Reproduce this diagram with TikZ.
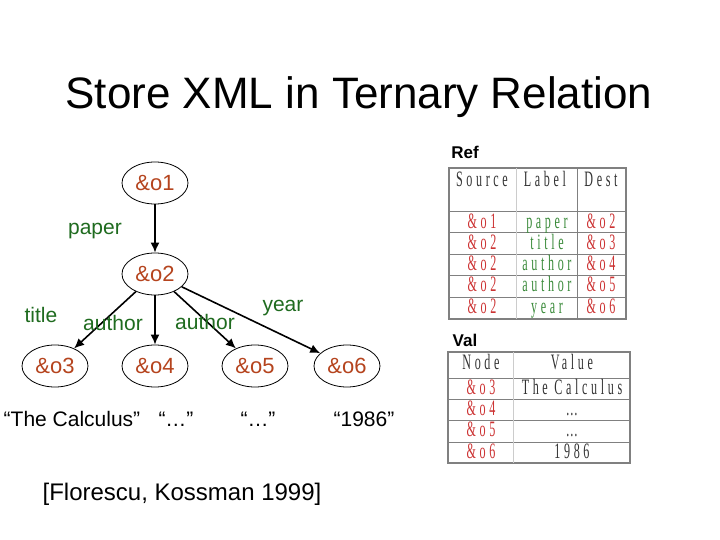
\documentclass[tikz,border=0pt]{standalone}
\usepackage{fontspec}
\usepackage{graphicx}
\setmainfont{Liberation Sans}
\newfontfamily\tabfont[LetterSpace=30]{Liberation Serif}
\usetikzlibrary{shapes.geometric,arrows.meta}
\definecolor{oidred}{HTML}{B5441E}
\definecolor{lblgreen}{HTML}{1F6B1F}
\definecolor{cellred}{HTML}{CC3333}
\definecolor{cellgreen}{HTML}{3A8A3A}
\definecolor{rulegray}{HTML}{808080}
\newcommand{\cell}[1]{\scalebox{0.55}[1]{\fontsize{11}{13}\tabfont #1}}
\tikzset{
  oid/.style={ellipse, draw, thin, minimum width=33pt, minimum height=21pt,
    inner sep=0pt, text=oidred, font=\fontsize{11}{13}\selectfont},
  lbl/.style={text=lblgreen, font=\fontsize{10.5}{12}\selectfont},
  val/.style={font=\fontsize{10.5}{12}\selectfont},
  link/.style={-{Latex[length=5pt,width=4.5pt]}, line width=0.8pt},
  tcell/.style={inner sep=0pt, text height=7.5pt, text depth=2pt},
  tname/.style={font=\bfseries\fontsize{8.5}{10}\selectfont},
}
\begin{document}
\begin{tikzpicture}[x=0.5pt, y=-0.5pt]
  \useasboundingbox (0,0) rectangle (720,540);
  \node (title) at (359,97) {\fontsize{22}{26}\selectfont Store XML in Ternary Relation};
  % tree
  \node[oid] (o1) at (155,183) {\&o1};
  \node[oid] (o2) at (155,274) {\&o2};
  \node[oid] (o3) at (55,366)  {\&o3};
  \node[oid] (o4) at (155,366) {\&o4};
  \node[oid] (o5) at (255,366) {\&o5};
  \node[oid] (o6) at (347,366) {\&o6};
  \draw[link] (o1) -- (o2);
  \draw[link] (o2) -- (o3);
  \draw[link] (o2) -- (o4);
  \draw[link] (o2) -- (o5);
  \draw[link] (o2) -- (o6);
  \node[lbl] (paper)   at (95,231)  {paper};
  \node[lbl] (title3)  at (41,315)  {title};
  \node[lbl] (author4) at (113,323) {author};
  \node[lbl] (author5) at (205,322) {author};
  \node[lbl] (year6)   at (283,308) {year};
  \node[val] (v3) at (72,419)  {``The Calculus''};
  \node[val] (v4) at (176,419) {``\ldots''};
  \node[val] (v5) at (258,419) {``\ldots''};
  \node[val] (v6) at (364,419) {``1986''};
  \node (cite) at (182,494) {\fontsize{12}{14}\selectfont [Florescu, Kossman 1999]};
  % Ref table
  \node[tname] (ref) at (465,152) {Ref};
  \begin{scope}[draw=rulegray]
    \draw[line width=1pt] (449,168) rectangle (626,319);
    \draw (449,211) -- (626,211);
    \foreach \y in {232,254,275,297} \draw (449,\y) -- (626,\y);
    \draw[draw=gray!40] (516,168) -- (516,319);
    \draw (577,168) -- (577,319);
  \end{scope}
  \node[tcell, text=black!80] at (482,181) {\cell{Source}};
  \node[tcell, text=black!80] at (545,181) {\cell{Label}};
  \node[tcell, text=black!80] at (601,181) {\cell{Dest}};
  \foreach \s/\l/\d [count=\i] in {o1/paper/o2, o2/title/o3, o2/author/o4,
      o2/author/o5, o2/year/o6} {
    \node[tcell, text=cellred]   at (482,{201.5+21.25*\i}) {\cell{\&\s}};
    \node[tcell, text=cellgreen] at (547,{201.5+21.25*\i}) {\cell{\l}};
    \node[tcell, text=cellred]   at (601,{201.5+21.25*\i}) {\cell{\&\d}};
  }
  % Val table
  \node[tname] (val) at (465,340) {Val};
  \begin{scope}[draw=rulegray]
    \draw[line width=1pt] (448,352) rectangle (630,463);
    \foreach \y in {378,399,420,442} \draw (448,\y) -- (630,\y);
    \draw[draw=gray!40] (513,352) -- (513,463);
  \end{scope}
  \node[tcell, text=black!80] at (481,364) {\cell{Node}};
  \node[tcell, text=black!80] at (572,364) {\cell{Value}};
  \foreach \n/\v [count=\i] in {o3/The Calculus, o4/\ldots, o5/\ldots, o6/1986} {
    \node[tcell, text=cellred] at (481,{367.5+21.3*\i}) {\cell{\&\n}};
    \node[tcell, text=black!80] at (572,{367.5+21.3*\i}) {\cell{\v}};
  }
\end{tikzpicture}
\end{document}
